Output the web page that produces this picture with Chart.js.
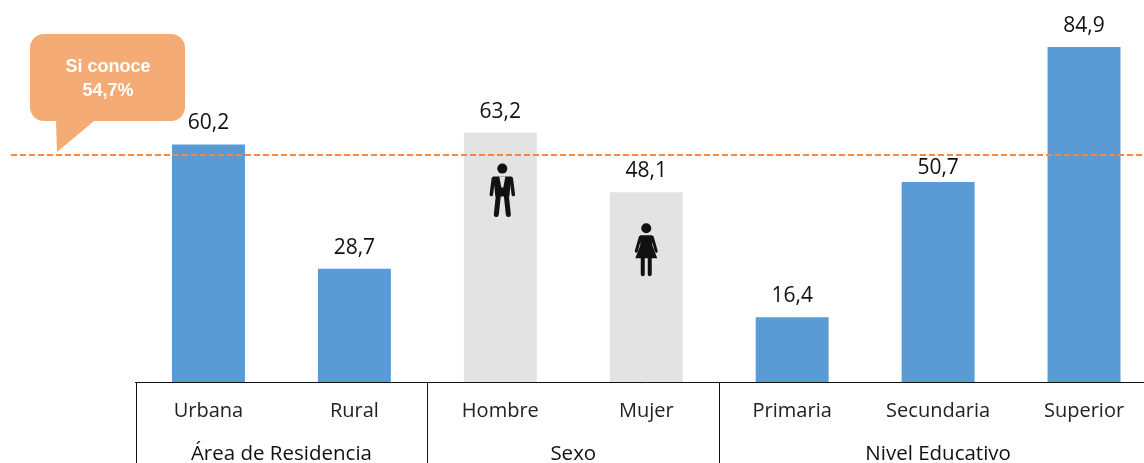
<!DOCTYPE html>
<html>
<head>
<meta charset="utf-8">
<style>
    html, body { margin: 0; padding: 0; background: #fff; overflow: hidden; width: 1144px; height: 463px; }
    canvas { display: block; }
</style>
<script src="https://cdn.jsdelivr.net/npm/chart.js@4/dist/chart.umd.min.js"></script>
</head>
<body>
<canvas id="knowChart" width="1157" height="463"></canvas>
<script>
const categories = ['Urbana', 'Rural', 'Hombre', 'Mujer', 'Primaria', 'Secundaria', 'Superior'];
const values = [60.2, 28.7, 63.2, 48.1, 16.4, 50.7, 84.9];
const groupNames = ['Área de Residencia', 'Sexo', 'Nivel Educativo'];
const groupStarts = [0, 2, 4];
const groupEnds = [1, 3, 6];
const calloutLines = ['Si conoce', '54,7%'];
// the dashed line sits a bit above 54.7 in the picture
const dashedLevel = 57.5;

const BLUE = '#5B9BD5';
const GRAY = '#E3E3E3';
const barColors = categories.map(function (c) {
    return (c === 'Hombre' || c === 'Mujer') ? GRAY : BLUE;
});
const FONT = '"Open Sans", sans-serif';

function drawMan(ctx, cx, top) {
    ctx.save();
    ctx.filter = 'blur(0.5px)';
    ctx.fillStyle = '#111';
    ctx.strokeStyle = '#111';
    ctx.lineCap = 'round';
    ctx.beginPath();
    ctx.arc(cx, top + 5, 5, 0, Math.PI * 2);
    ctx.fill();
    // jacket
    ctx.beginPath();
    ctx.moveTo(cx - 9, top + 13);
    ctx.lineTo(cx + 9, top + 13);
    ctx.lineTo(cx + 7, top + 33);
    ctx.lineTo(cx - 7, top + 33);
    ctx.closePath();
    ctx.fill();
    // arms
    ctx.lineWidth = 3.5;
    ctx.beginPath();
    ctx.moveTo(cx - 9, top + 15);
    ctx.lineTo(cx - 11, top + 31);
    ctx.moveTo(cx + 9, top + 15);
    ctx.lineTo(cx + 11, top + 31);
    ctx.stroke();
    // legs
    ctx.lineWidth = 5;
    ctx.beginPath();
    ctx.moveTo(cx - 4, top + 32);
    ctx.lineTo(cx - 6, top + 51);
    ctx.moveTo(cx + 4, top + 32);
    ctx.lineTo(cx + 6, top + 51);
    ctx.stroke();
    // shirt
    ctx.fillStyle = '#E3E3E3';
    ctx.beginPath();
    ctx.moveTo(cx - 3, top + 13);
    ctx.lineTo(cx + 3, top + 13);
    ctx.lineTo(cx + 1, top + 24);
    ctx.lineTo(cx - 1, top + 24);
    ctx.closePath();
    ctx.fill();
    ctx.restore();
}

function drawWoman(ctx, cx, top) {
    ctx.save();
    ctx.filter = 'blur(0.5px)';
    ctx.fillStyle = '#111';
    ctx.strokeStyle = '#111';
    ctx.lineCap = 'round';
    ctx.beginPath();
    ctx.arc(cx, top + 5, 5, 0, Math.PI * 2);
    ctx.fill();
    // dress
    ctx.beginPath();
    ctx.moveTo(cx - 6, top + 12);
    ctx.lineTo(cx + 6, top + 12);
    ctx.lineTo(cx + 6, top + 22);
    ctx.lineTo(cx + 11, top + 35);
    ctx.lineTo(cx - 11, top + 35);
    ctx.lineTo(cx - 6, top + 22);
    ctx.closePath();
    ctx.fill();
    // arms
    ctx.lineWidth = 3;
    ctx.beginPath();
    ctx.moveTo(cx - 6, top + 14);
    ctx.lineTo(cx - 10, top + 28);
    ctx.moveTo(cx + 6, top + 14);
    ctx.lineTo(cx + 10, top + 28);
    ctx.stroke();
    // legs
    ctx.lineWidth = 4;
    ctx.beginPath();
    ctx.moveTo(cx - 3.5, top + 34);
    ctx.lineTo(cx - 3.5, top + 51);
    ctx.moveTo(cx + 3.5, top + 34);
    ctx.lineTo(cx + 3.5, top + 51);
    ctx.stroke();
    ctx.restore();
}

const annotations = {
    id: 'annotations',
    afterDatasetsDraw: function (chart) {
        const ctx = chart.ctx;
        const xs = chart.scales.x;
        const ys = chart.scales.y;
        const bars = chart.getDatasetMeta(0).data;
        const base = chart.chartArea.bottom;

        // value labels, Secundaria's is pulled down under the dashed line
        ctx.save();
        ctx.fillStyle = '#111';
        ctx.font = '21px ' + FONT;
        ctx.textAlign = 'center';
        ctx.textBaseline = 'alphabetic';
        bars.forEach(function (bar, i) {
            const gap = categories[i] === 'Secundaria' ? 8 : 15;
            ctx.fillText(String(values[i]).replace('.', ','), bar.x, bar.y - gap);
        });

        // people on the grey bars
        drawMan(ctx, bars[2].x + 2, bars[2].y + 31);
        drawWoman(ctx, bars[3].x, bars[3].y + 31);

        // group dividers and names
        const step = xs.getPixelForValue(1) - xs.getPixelForValue(0);
        ctx.strokeStyle = '#111';
        ctx.lineWidth = 1;
        ctx.font = '20.5px ' + FONT;
        groupNames.forEach(function (name, i) {
            const left = xs.getPixelForValue(groupStarts[i]) - step / 2;
            const right = xs.getPixelForValue(groupEnds[i]) + step / 2;
            const px = Math.round(left) + 0.5;
            ctx.beginPath();
            ctx.moveTo(px, base);
            ctx.lineTo(px, 463);
            ctx.stroke();
            ctx.fillText(name, (left + right) / 2, 460);
        });

        // dashed reference line
        const lineY = ys.getPixelForValue(dashedLevel);
        ctx.strokeStyle = '#F4893F';
        ctx.lineWidth = 2;
        ctx.setLineDash([6, 3]);
        ctx.beginPath();
        ctx.moveTo(11, lineY);
        ctx.lineTo(1157, lineY);
        ctx.stroke();
        ctx.setLineDash([]);

        // callout
        ctx.fillStyle = '#F5AB75';
        ctx.beginPath();
        ctx.moveTo(44, 34);
        ctx.lineTo(171, 34);
        ctx.arcTo(185, 34, 185, 48, 14);
        ctx.lineTo(185, 107);
        ctx.arcTo(185, 121, 171, 121, 14);
        ctx.lineTo(94, 121);
        ctx.lineTo(57, 152);
        ctx.lineTo(56, 121);
        ctx.lineTo(44, 121);
        ctx.arcTo(30, 121, 30, 107, 14);
        ctx.lineTo(30, 48);
        ctx.arcTo(30, 34, 44, 34, 14);
        ctx.closePath();
        ctx.fill();
        ctx.fillStyle = '#fff';
        ctx.font = 'bold 18px "Liberation Sans", sans-serif';
        ctx.fillText(calloutLines[0], 108, 72);
        ctx.fillText(calloutLines[1], 108, 96);
        ctx.restore();
    }
};

new Chart(document.getElementById('knowChart').getContext('2d'), {
    type: 'bar',
    data: {
        labels: categories,
        datasets: [{
            data: values,
            backgroundColor: barColors,
            barPercentage: 1,
            categoryPercentage: 0.5
        }]
    },
    options: {
        responsive: false,
        animation: false,
        layout: { padding: { left: 135.5, right: 0, top: 0, bottom: 0 } },
        plugins: { legend: { display: false }, tooltip: { enabled: false } },
        scales: {
            x: {
                afterFit: function (scale) { scale.height = 81; },
                grid: { display: false },
                border: { color: '#111', width: 1 },
                ticks: {
                    color: '#222',
                    font: { family: FONT, size: 20 },
                    padding: 9,
                    maxRotation: 0,
                    autoSkip: false
                }
            },
            y: { display: false, min: 0, max: 96.8 }
        }
    },
    plugins: [annotations]
});
</script>
</body>
</html>
